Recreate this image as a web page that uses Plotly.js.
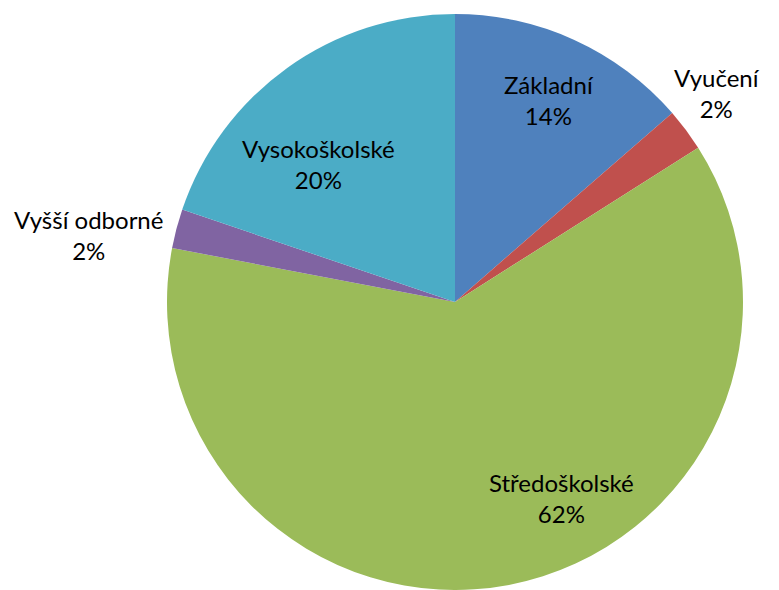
<!DOCTYPE html>
<html>
<head>
<meta charset="utf-8">
<script src="https://cdn.plot.ly/plotly-3.0.1.min.js"></script>
<style>html,body{margin:0;padding:0;background:#fff;}</style>
</head>
<body>
<div id="chart" style="width:779px;height:590px;"></div>
<script>
// Data
const categories = ["Základní", "Vyučení", "Středoškolské", "Vyšší odborné", "Vysokoškolské"];
const values = [13.6, 2.4, 62.0, 2.2, 19.8];

// Styles / layout (not data)
const colors = ["#4F81BD", "#C0504D", "#9BBB59", "#8064A2", "#4BACC6"];
const labelPxX = [549, 717, 561, 88, 318];
const labelPxY = [100, 93, 498, 235, 164];

const W = 779, H = 590;
const cx = 455, cy = 302, R = 288;

const total = values.reduce((a, b) => a + b, 0);

const trace = {
  type: "pie",
  labels: categories,
  values: values,
  sort: false,
  direction: "clockwise",
  rotation: 0,
  marker: {colors: colors, line: {width: 0}},
  textinfo: "none",
  hoverinfo: "label+percent",
  showlegend: false,
  domain: {x: [(cx - R) / W, (cx + R) / W], y: [(H - cy - R) / H, (H - cy + R) / H]}
};

const annotations = categories.map((c, i) => ({
  xref: "paper", yref: "paper",
  x: labelPxX[i] / W, y: 1 - labelPxY[i] / H,
  xanchor: "center", yanchor: "middle",
  text: c + "<br>" + Math.round(values[i] / total * 100) + "%",
  showarrow: false,
  align: "center",
  font: {family: "Lato, 'Open Sans', sans-serif", size: 24, color: "#000"}
}));

const layout = {
  width: W,
  height: H,
  margin: {l: 0, r: 0, t: 0, b: 0},
  paper_bgcolor: "#fff",
  plot_bgcolor: "#fff",
  showlegend: false,
  annotations: annotations
};

Plotly.newPlot("chart", [trace], layout, {displayModeBar: false, staticPlot: true});
</script>
</body>
</html>
